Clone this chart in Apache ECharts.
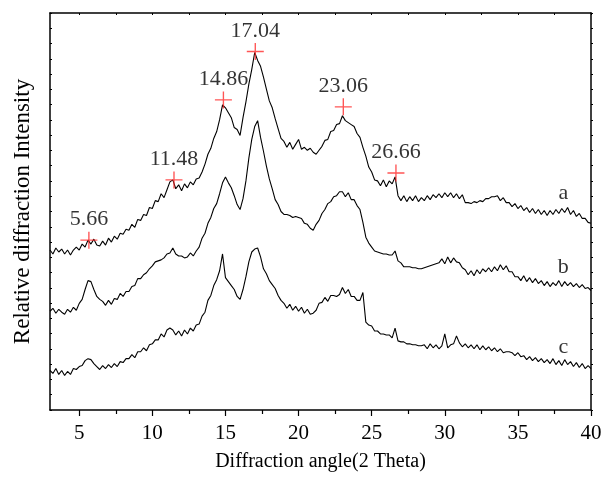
<!DOCTYPE html>
<html>
<head>
<meta charset="utf-8">
<script src="https://cdn.jsdelivr.net/npm/echarts@6/dist/echarts.min.js"></script>
<style>html,body{margin:0;padding:0;background:#fff;}#c{width:605px;height:477px;}</style>
</head>
<body>
<div id="c"></div>
<script>
// 2-theta grid: 3.0 .. 40.0 step 0.2
var thetaStart = 3.0, thetaStep = 0.2;

// relative intensity (offset traces, arbitrary units)
var curveA = [
162,158,164,160,163,158,162,157,162,165,
162,168,165,172,168,173,167,166,171,167,
174,170,176,173,179,178,183,182,188,185,
193,192,198,197,205,204,212,211,219,215,
223,231,233,224,228,222,229,225,231,228,
234,235,241,249,259,265,275,282,294,309,
306,301,296,286,284,278,296,312,330,345,
362,354,348,337,325,313,306,295,285,275,
272,266,271,264,269,274,264,266,263,265,
261,259,263,267,273,274,282,283,289,290,
298,293,291,289,287,280,276,266,257,246,
241,233,232,227,233,226,232,229,236,217,
212,217,211,216,212,217,211,215,212,217,
213,218,215,219,215,220,216,220,215,219,
214,218,210,210,209,211,210,212,211,214,
214,216,216,217,212,215,210,210,206,209,
204,207,202,205,200,204,199,203,198,202,
197,202,198,203,199,204,200,205,198,202,
196,199,194,194,190,189];

var curveB = [
100,103,98,102,99,97,102,99,104,101,
108,112,122,131,130,122,115,112,110,106,
111,107,113,112,118,115,120,120,125,126,
133,133,137,139,143,146,150,151,152,154,
158,159,164,158,156,156,154,155,159,156,
161,165,174,179,189,195,204,209,219,230,
236,230,225,217,208,203,214,232,255,274,
287,293,276,262,247,234,224,213,208,201,
198,198,197,195,196,195,194,189,188,184,
182,188,192,199,203,209,211,216,217,221,
221,216,220,213,213,207,203,190,175,169,
165,161,160,159,158,158,157,157,161,151,
149,145,145,145,144,144,143,143,144,145,
146,147,148,149,153,148,155,149,154,150,
149,144,142,137,141,136,142,138,143,140,
144,140,145,141,147,142,146,140,140,135,
135,131,136,130,134,129,133,128,131,126,
130,125,129,126,131,125,130,126,129,125,
128,124,127,123,124,121];

var curveC = [
40,37,42,36,40,35,39,36,42,41,
44,45,50,52,51,47,44,41,45,42,
46,43,47,44,49,48,52,52,56,53,
59,59,63,60,66,67,71,71,77,74,
81,83,81,76,80,75,81,77,83,80,
86,87,95,99,111,116,126,132,141,158,
134,130,126,122,115,112,122,135,150,160,
163,164,155,143,138,131,127,123,116,111,
108,103,107,101,105,100,104,98,102,97,
98,101,108,109,114,110,116,116,115,117,
124,118,122,115,115,111,111,119,89,86,
85,80,80,77,77,76,76,73,83,70,
69,69,67,67,66,66,65,65,66,62,
67,63,66,62,65,77,63,66,67,75,
68,64,67,63,66,62,66,61,65,61,
64,60,63,59,62,58,59,59,58,55,
58,54,55,51,54,50,53,49,52,48,
51,47,52,46,50,45,51,46,49,44,
48,43,47,42,45,42];

// marked peaks on trace a
var peakPos = [5.66, 11.48, 14.86, 17.04, 23.06, 26.66];
var peakInt = [172, 233, 314, 363, 307, 240];
var peakLabels = ['5.66', '11.48', '14.86', '17.04', '23.06', '26.66'];

// trace labels
var traceNames = ['a', 'b', 'c'];
var traceLabelX = [38.11, 38.11, 38.11];
var traceLabelY = [220, 145, 64];

// axis ticks
var xMajorTicks = [5, 10, 15, 20, 25, 30, 35, 40];
var xMinorTicks = [7.5, 12.5, 17.5, 22.5, 27.5, 32.5, 37.5];
var xAllTicks = [5, 7.5, 10, 12.5, 15, 17.5, 20, 22.5, 25, 27.5, 30, 32.5, 35, 37.5, 40];

function pairs(arr) {
  var out = [];
  for (var i = 0; i < arr.length; i++) {
    out.push([+(thetaStart + i * thetaStep).toFixed(1), arr[i]]);
  }
  return out;
}

var FONT = 'Liberation Serif';
var yMax = 402, yInt = 402 / 26;

var chart = echarts.init(document.getElementById('c'), null, {renderer: 'canvas'});

function lineSeries(arr) {
  return {
    type: 'line', xAxisIndex: 0, yAxisIndex: 0,
    data: pairs(arr), showSymbol: false, symbol: 'none',
    lineStyle: {color: '#000', width: 1.1}, silent: true, z: 3
  };
}

var peakData = peakPos.map(function (p, i) { return {value: [p, peakInt[i]], name: peakLabels[i]}; });
var traceData = traceNames.map(function (n, i) { return {value: [traceLabelX[i], traceLabelY[i]], name: n}; });

chart.setOption({
  animation: false,
  backgroundColor: '#fff',
  grid: {left: 50, right: 14, top: 13, bottom: 62, containLabel: false},
  xAxis: [
    {
      type: 'value', position: 'bottom', min: 3, max: 40,
      name: 'Diffraction angle(2 Theta)', nameLocation: 'middle', nameGap: 42,
      nameTextStyle: {fontFamily: FONT, fontSize: 20, color: '#000'},
      axisLine: {show: true, onZero: false, lineStyle: {color: '#000', width: 1.5}},
      axisTick: {show: true, inside: false, length: 6, customValues: xMajorTicks, lineStyle: {color: '#000', width: 1.2}},
      axisLabel: {show: true, customValues: xMajorTicks, margin: 13, fontFamily: FONT, fontSize: 21, color: '#000'},
      splitLine: {show: false}
    },
    {
      type: 'value', position: 'bottom', min: 3, max: 40,
      axisLine: {show: false, onZero: false},
      axisTick: {show: true, inside: false, length: 4, customValues: xMinorTicks, lineStyle: {color: '#000', width: 1.2}},
      axisLabel: {show: false},
      splitLine: {show: false}
    },
    {
      type: 'value', position: 'top', min: 3, max: 40,
      axisLine: {show: true, onZero: false, lineStyle: {color: '#000', width: 1.5}},
      axisTick: {show: true, inside: true, length: 2, customValues: xAllTicks, lineStyle: {color: '#000', width: 1}},
      axisLabel: {show: false},
      splitLine: {show: false}
    }
  ],
  yAxis: [
    {
      type: 'value', position: 'left', min: 0, max: yMax, interval: yInt,
      name: 'Relative diffraction Intensity', nameLocation: 'middle', nameGap: 16,
      nameTextStyle: {fontFamily: FONT, fontSize: 23, color: '#000'},
      axisLine: {show: true, onZero: false, lineStyle: {color: '#000', width: 1.5}},
      axisTick: {show: true, inside: true, length: 2, lineStyle: {color: '#000', width: 1}},
      axisLabel: {show: false},
      splitLine: {show: false}
    },
    {
      type: 'value', position: 'right', min: 0, max: yMax, interval: yInt,
      axisLine: {show: true, onZero: false, lineStyle: {color: '#000', width: 1.5}},
      axisTick: {show: true, inside: false, length: 2, lineStyle: {color: '#000', width: 1}},
      axisLabel: {show: false},
      splitLine: {show: false}
    }
  ],
  series: [
    lineSeries(curveA),
    lineSeries(curveB),
    lineSeries(curveC),
    {
      type: 'scatter', xAxisIndex: 0, yAxisIndex: 0, z: 5,
      data: peakData,
      symbol: 'path://M0,9.2H20V10.8H0Z M9.2,0H10.8V20H9.2Z',
      symbolSize: 17,
      itemStyle: {color: '#ff2a2a'},
      label: {show: true, position: 'top', distance: 1, formatter: '{b}',
        fontFamily: FONT, fontSize: 22, color: '#000'},
      silent: true
    },
    {
      type: 'scatter', xAxisIndex: 0, yAxisIndex: 0, z: 5,
      data: traceData, symbol: 'circle', symbolSize: 1,
      itemStyle: {color: 'rgba(0,0,0,0)'},
      label: {show: true, position: 'inside', formatter: '{b}',
        fontFamily: FONT, fontSize: 22, color: '#000'},
      silent: true
    }
  ]
});
</script>
</body>
</html>
